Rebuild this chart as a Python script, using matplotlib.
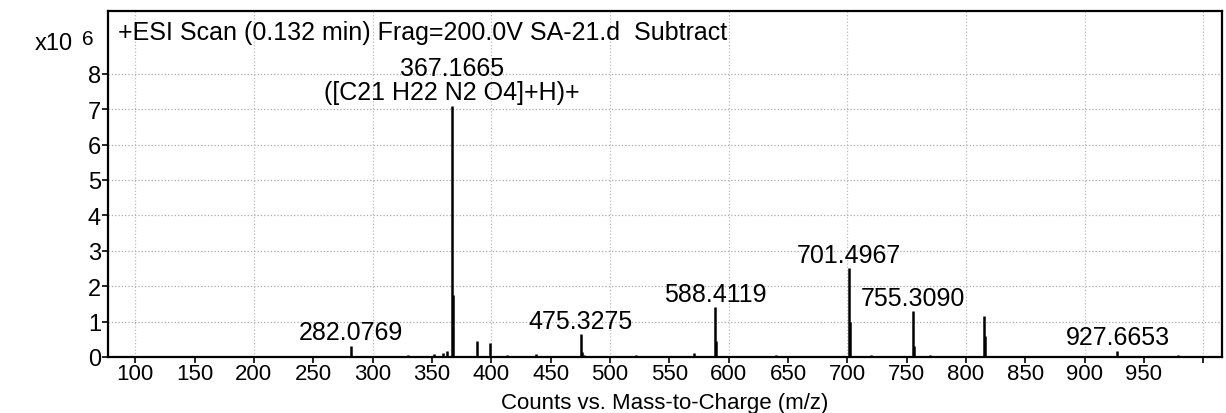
import numpy as np
import matplotlib
matplotlib.use('Agg')
import matplotlib.pyplot as plt

plt.rcParams['font.family'] = ['Liberation Sans', 'DejaVu Sans']

# peak list (m/z, intensity in 1e6 counts)
mz = [282.0769, 330.1, 352.0, 359.2, 363.1, 367.1665, 368.17, 388.2, 399.1, 413.0,
      437.5, 475.3275, 476.33, 478.0, 522.0, 571.0, 588.4119, 589.42, 640.0,
      701.4967, 702.50, 720.0, 755.3090, 756.31, 770.0, 815.2, 816.2, 927.6653, 979.0]
intensity = [0.32, 0.07, 0.08, 0.12, 0.18, 7.1, 1.75, 0.44, 0.4, 0.05,
             0.08, 0.65, 0.15, 0.05, 0.05, 0.1, 1.4, 0.45, 0.05,
             2.5, 1.0, 0.05, 1.3, 0.3, 0.05, 1.17, 0.6, 0.18, 0.05]

labels = {282.0769: '282.0769', 367.1665: '367.1665\n([C21 H22 N2 O4]+H)+',
          475.3275: '475.3275', 588.4119: '588.4119', 701.4967: '701.4967',
          755.3090: '755.3090', 927.6653: '927.6653'}

xticks = [100, 150, 200, 250, 300, 350, 400, 450, 500, 550, 600, 650, 700,
          750, 800, 850, 900, 950, 1000]
xticklabels = [str(t) for t in xticks[:-1]] + ['']
yticks = [0, 1, 2, 3, 4, 5, 6, 7, 8]

fig = plt.figure(figsize=(12.26, 4.14), dpi=100)
ax = fig.add_axes([0.088, 0.1353, 0.909, 0.8357])

# faint dotted grid like the printout
for t in yticks[1:]:
    ax.axhline(t, color='#aaaaaa', linestyle=':', linewidth=0.9, zorder=0)
for t in xticks[::2]:
    ax.axvline(t, color='#bbbbbb', linestyle=':', linewidth=0.9, zorder=0)

ax.vlines(mz, 0, intensity, color='black', linewidth=1.8)

for m, txt in labels.items():
    h = intensity[mz.index(m)]
    ax.annotate(txt, (m, h), xytext=(0, 1), textcoords='offset points',
                ha='center', va='bottom', fontsize=18, linespacing=1.0)

ax.set_xlim(77, 1016)
ax.set_ylim(0, 9.77)
ax.set_xticks(xticks)
ax.set_xticklabels(xticklabels, fontsize=16)
ax.set_yticks(yticks)
ax.set_yticklabels([str(t) for t in yticks], fontsize=17)
ax.tick_params(length=4, width=1.2)
ax.tick_params(axis='x', pad=0)
ax.tick_params(axis='y', pad=1)
for s in ax.spines.values():
    s.set_linewidth(1.6)

ax.text(0.009, 0.975, '+ESI Scan (0.132 min) Frag=200.0V SA-21.d  Subtract',
        transform=ax.transAxes, ha='left', va='top', fontsize=18)
fig.text(35 / 1226, 1 - 50 / 414, 'x10', fontsize=17, ha='left', va='baseline')
fig.text(82 / 1226, 1 - 45 / 414, '6', fontsize=15, ha='left', va='baseline')
fig.text(0.542, 1 - 409 / 414, 'Counts vs. Mass-to-Charge (m/z)', fontsize=16,
         ha='center', va='baseline')

fig.savefig('out.png', dpi=100)
